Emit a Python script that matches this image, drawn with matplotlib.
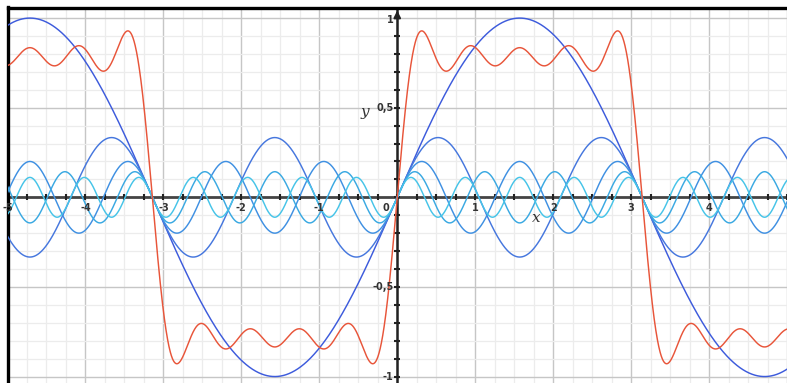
import numpy as np
import matplotlib
matplotlib.use("Agg")
import matplotlib.pyplot as plt

# Data: odd harmonics of the square-wave Fourier series and their amplitudes
harmonics = [1, 3, 5, 7, 9]
amplitudes = [1.0, 1/3, 1/5, 1/7, 1/9]
component_colors = ["#3d5bdc", "#4677de", "#3f90e2", "#3aa9e2", "#46c4e8"]
sum_color = "#e8553a"

x_tick_labels = ["-5", "-4", "-3", "-2", "-1", "0", "1", "2", "3", "4"]
x_tick_values = [-5, -4, -3, -2, -1, 0, 1, 2, 3, 4]
y_tick_labels = ["1", "0,5", "-0,5", "-1"]
y_tick_values = [1, 0.5, -0.5, -1]

W, H = 787, 383
fig = plt.figure(figsize=(W / 100, H / 100), dpi=100)
left = 7.5 / W
top = 7.5 / H
ax = fig.add_axes([left, 0, 1 - left, 1 - top])

x0_px, xs = 401.0, 79.0
ax.set_xlim((7.5 - x0_px) / xs, (787 - x0_px) / xs)
ax.set_ylim(-1.036, 1.059)

# grid
ax.set_xticks(np.arange(-5, 5.01, 1))
ax.set_xticks(np.arange(-5, 5.01, 0.25), minor=True)
ax.set_yticks([-1, -0.5, 0.5, 1])
ax.set_yticks(np.arange(-1, 1.01, 0.1), minor=True)
ax.grid(which="minor", color="#ececec", lw=0.9, zorder=0)
ax.grid(which="major", color="#c6c6c6", lw=1.0, zorder=0)
ax.tick_params(which="both", length=0, labelbottom=False, labelleft=False)
ax.set_axisbelow(True)

for s in ["right", "bottom"]:
    ax.spines[s].set_visible(False)
for s in ["left", "top"]:
    ax.spines[s].set_linewidth(2.4)
    ax.spines[s].set_color("black")

# axes lines
ax.axhline(0, color="#444444", lw=2.0, zorder=2)
ax.axvline(0, color="#222222", lw=1.8, zorder=2)
xt = np.arange(-5, 5.01, 0.25)
ax.plot(xt, np.zeros_like(xt), ls="none", marker="|", ms=4.5, mew=1.5, color="#222222", zorder=2)
yt = np.arange(-1, 1.01, 0.1)
ax.plot(np.zeros_like(yt), yt, ls="none", marker="_", ms=4.5, mew=1.5, color="#222222", zorder=2)
ax.annotate("", xy=(0, 1.058), xytext=(0, 1.0),
            arrowprops=dict(arrowstyle="-|>", color="#222222", lw=1.5,
                            mutation_scale=10), zorder=3)

# curves
x = np.linspace(-5.2, 5.2, 3000)
total = np.zeros_like(x)
for n, a, c in zip(harmonics, amplitudes, component_colors):
    y = a * np.sin(n * x)
    total += y
    ax.plot(x, y, color=c, lw=1.05, zorder=3)
ax.plot(x, total, color=sum_color, lw=1.05, zorder=4)

# labels
lab_kw = dict(fontsize=7, fontweight="bold", color="#333333", zorder=5)
for v, t in zip(x_tick_values, x_tick_labels):
    xx = -0.15 if v == 0 else v
    ax.text(xx, -0.058, t, ha="center", va="center", **lab_kw)
for v, t in zip(y_tick_values, y_tick_labels):
    ax.text(-0.05, v + (-0.01 if v == 1 else 0.0), t, ha="right", va="center", **lab_kw)

ax.text(1.78, -0.115, "x", ha="center", va="center", fontsize=11, style="italic",
        family="DejaVu Serif", color="#333333", zorder=5)
ax.text(-0.42, 0.475, "y", ha="center", va="center", fontsize=11, style="italic",
        family="DejaVu Serif", color="#333333", zorder=5)

fig.savefig("out.png", dpi=100)
